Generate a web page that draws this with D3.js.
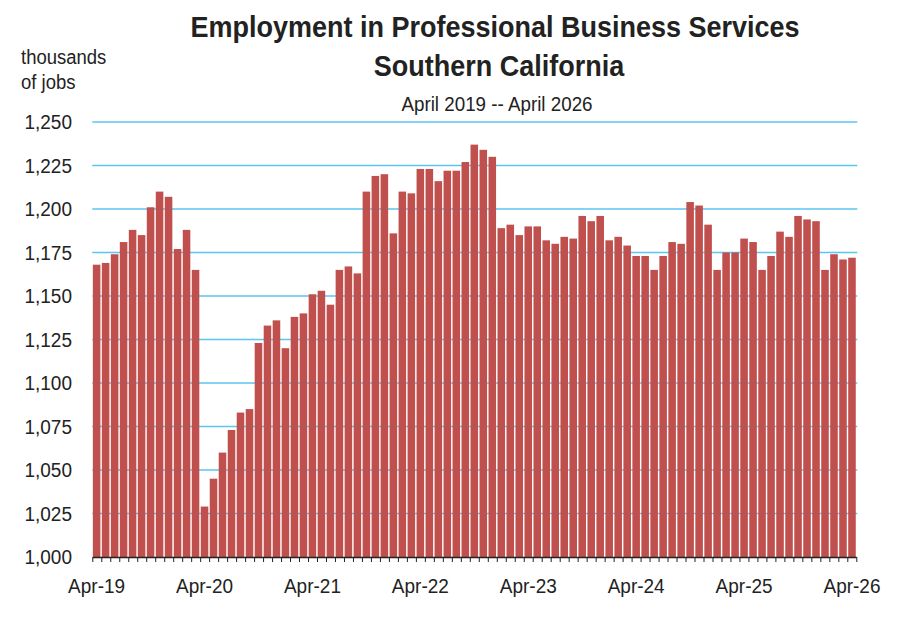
<!DOCTYPE html>
<html>
<head>
<meta charset="utf-8">
<script src="https://cdn.jsdelivr.net/npm/d3@7"></script>
<style>
  html, body { margin: 0; padding: 0; background: #fff; }
  svg { display: block; font-family: "Liberation Sans", Arial, sans-serif; }
</style>
</head>
<body>
<div id="chart"></div>
<script>
// monthly employment, thousands of jobs, Apr 2019 .. Apr 2026
const firstMonth = new Date(Date.UTC(2019, 3, 1));
const lastMonth = new Date(Date.UTC(2026, 3, 1));
const months = d3.utcMonth.range(firstMonth, d3.utcMonth.offset(lastMonth, 1));

const jobs = [
  1168, 1169, 1174, 1181, 1188, 1185, 1201, 1210, 1207, 1177, 1188, 1165,
  1029, 1045, 1060, 1073, 1083, 1085, 1123, 1133, 1136, 1120, 1138, 1140,
  1151, 1153, 1145, 1165, 1167, 1163, 1210, 1219, 1220, 1186, 1210, 1209,
  1223, 1223, 1216, 1222, 1222, 1227, 1237, 1234, 1230, 1189, 1191, 1185,
  1190, 1190, 1182, 1180, 1184, 1183, 1196, 1193, 1196, 1182, 1184, 1179,
  1173, 1173, 1165, 1173, 1181, 1180, 1204, 1202, 1191, 1165, 1175, 1175,
  1183, 1181, 1165, 1173, 1187, 1184, 1196, 1194, 1193, 1165, 1174, 1171,
  1172
];

const xLabels = ['Apr-19', 'Apr-20', 'Apr-21', 'Apr-22', 'Apr-23', 'Apr-24', 'Apr-25', 'Apr-26'];
const yTicks = [1000, 1025, 1050, 1075, 1100, 1125, 1150, 1175, 1200, 1225, 1250];

const data = months.map((m, i) => ({ month: m, value: jobs[i] }));

const width = 903, height = 618;
const plotLeft = 92.3, plotRight = 856.3, plotTop = 122, plotBottom = 557;
const stretch = 1.1; // text in the picture is a little taller than wide

const svg = d3.select('#chart').append('svg')
  .attr('width', width)
  .attr('height', height);

const x = d3.scaleBand()
  .domain(data.map(d => d.month))
  .range([plotLeft, plotRight])
  .paddingInner(0.16)
  .paddingOuter(0.06);

const y = d3.scaleLinear()
  .domain([1000, 1250])
  .range([plotBottom, plotTop]);

const fmt = d3.format(',');

function label(g, px, py, text, size, anchor, weight) {
  return g.append('text')
    .attr('transform', `translate(${px},${py}) scale(1,${stretch})`)
    .attr('text-anchor', anchor)
    .attr('font-size', size)
    .attr('font-weight', weight || 'normal')
    .attr('fill', '#222')
    .text(text);
}

// gridlines
svg.append('g')
  .selectAll('line')
  .data(yTicks.filter(v => v > 1000))
  .join('line')
  .attr('x1', plotLeft)
  .attr('x2', plotRight + 1)
  .attr('y1', d => y(d))
  .attr('y2', d => y(d))
  .attr('stroke', '#5BC5F2')
  .attr('stroke-width', 1.4);

// bars
svg.append('g')
  .selectAll('rect')
  .data(data)
  .join('rect')
  .attr('x', d => x(d.month))
  .attr('width', x.bandwidth())
  .attr('y', d => y(d.value))
  .attr('height', d => y(1000) - y(d.value))
  .attr('fill', '#C0504D');

// x axis with a tick between every month
const idx = d3.scaleLinear().domain([0, data.length]).range([plotLeft, plotRight]);
const xAxis = svg.append('g')
  .attr('transform', `translate(0,${plotBottom})`)
  .call(d3.axisBottom(idx)
    .tickValues(d3.range(data.length + 1))
    .tickSize(5)
    .tickSizeOuter(0)
    .tickFormat(''));
xAxis.select('.domain').attr('stroke', '#222').attr('stroke-width', 1.3);
xAxis.selectAll('.tick line').attr('stroke', '#222').attr('stroke-width', 1);

// x labels on the April bars
const labelGroup = svg.append('g');
xLabels.forEach((t, i) => {
  const m = d3.utcMonth.offset(firstMonth, i * 12);
  label(labelGroup, x(m) + x.bandwidth() / 2, 593, t, 19, 'middle');
});

// y labels
const yGroup = svg.append('g');
yTicks.forEach(v => label(yGroup, 72, y(v) + 7, fmt(v), 19, 'end'));

// unit label
label(svg, 21, 64, 'thousands', 18.5, 'start');
label(svg, 21, 89, 'of jobs', 18.5, 'start');

// titles
label(svg, 495, 37, 'Employment in Professional Business Services', 27, 'middle', 'bold');
label(svg, 499, 76, 'Southern California', 27, 'middle', 'bold');
label(svg, 497, 111, 'April 2019 -- April 2026', 18.8, 'middle');
</script>
</body>
</html>
